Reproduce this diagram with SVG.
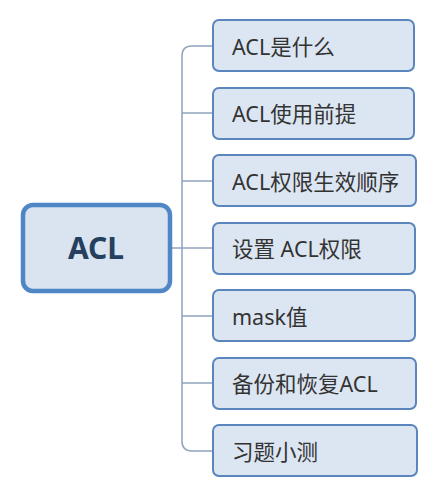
<svg xmlns="http://www.w3.org/2000/svg" width="440" height="498" viewBox="0 0 440 498">
<style>
.main rect{fill:#dae4f0;stroke:#4f86c6;stroke-width:4.5}
.main text{font-family:"Noto Sans","Noto Sans CJK SC",sans-serif;font-weight:bold;font-size:30px;fill:#25405f;text-anchor:middle}
.topic rect{fill:#dce6f2;stroke:#5a86bd;stroke-width:2}
.topic text{font-family:"Noto Sans","Noto Sans CJK SC",sans-serif;font-size:21.5px;fill:#333}
.conn path{fill:none;stroke:#8fa3bd;stroke-width:1.5}
</style>
<rect width="440" height="498" fill="#ffffff"/>
<g class="conn" id="connectors">
<path d="M171,248 L182,248"/>
<path d="M182,248 L182,56 Q182,46 192,46 L213,46"/>
<path d="M182,113 L213,113"/>
<path d="M182,181 L213,181"/>
<path d="M182,248 L213,248"/>
<path d="M182,316 L213,316"/>
<path d="M182,383 L213,383"/>
<path d="M182,248 L182,441 Q182,451 192,451 L213,451"/>
</g>
<g class="main" id="node-acl">
<rect x="23" y="205" width="147" height="86" rx="10"/>
<text x="96" y="259">ACL</text>
</g>
<g class="topic" id="node-1"><rect x="213" y="20" width="201" height="51" rx="6"/><text x="232" y="55">ACL是什么</text></g>
<g class="topic" id="node-2"><rect x="213" y="88" width="201" height="51" rx="6"/><text x="232" y="122">ACL使用前提</text></g>
<g class="topic" id="node-3"><rect x="213" y="155" width="203" height="51" rx="6"/><text x="232" y="190">ACL权限生效顺序</text></g>
<g class="topic" id="node-4"><rect x="213" y="223" width="202" height="51" rx="6"/><text x="232" y="257">设置 ACL权限</text></g>
<g class="topic" id="node-5"><rect x="213" y="290" width="202" height="51" rx="6"/><text x="232" y="325">mask值</text></g>
<g class="topic" id="node-6"><rect x="213" y="358" width="203" height="51" rx="6"/><text x="232" y="392">备份和恢复ACL</text></g>
<g class="topic" id="node-7"><rect x="213" y="425" width="204" height="51" rx="6"/><text x="232" y="460">习题小测</text></g>
</svg>
